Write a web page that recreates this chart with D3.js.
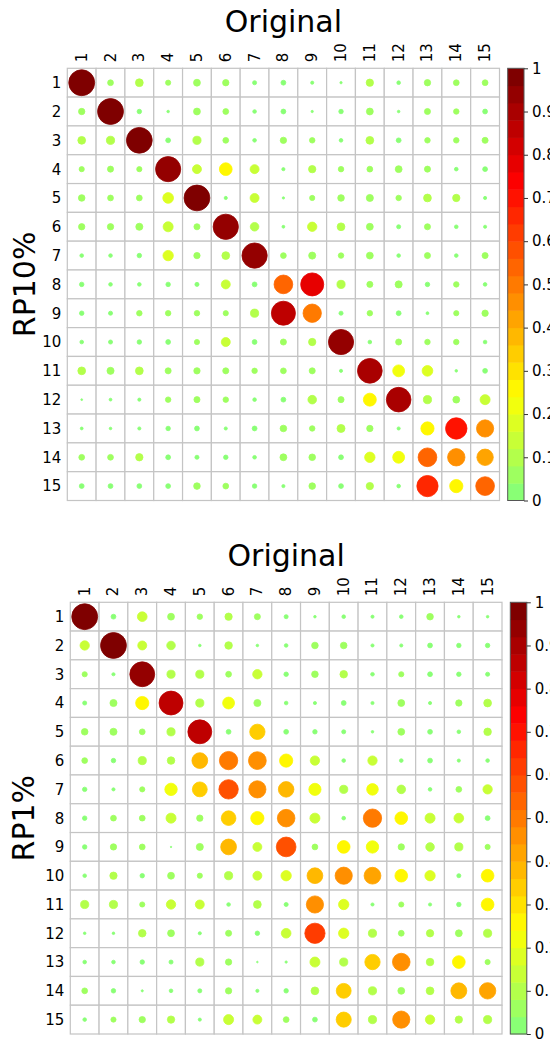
<!DOCTYPE html>
<html>
<head>
<meta charset="utf-8"/>
<script src="https://d3js.org/d3.v7.min.js"></script>
<style>
    body { margin: 0; padding: 0; width: 550px; height: 1042px; background: #fff; font-family: 'DejaVu Sans', sans-serif; }
    svg text { font-family: 'DejaVu Sans', sans-serif; fill: #000; }
</style>
</head>
<body>
<div id="chart"></div>
<script>
    // row / column labels
    const labels = ["1","2","3","4","5","6","7","8","9","10","11","12","13","14","15"];
    const colorbarTicks = [0, 0.1, 0.2, 0.3, 0.4, 0.5, 0.6, 0.7, 0.8, 0.9, 1];
    const colorbarTickLabels = ["0","0.1","0.2","0.3","0.4","0.5","0.6","0.7","0.8","0.9","1"];

    // RP10% vs Original (rows = RP10%, columns = Original)
    const rp10 = [
        [1.00,0.05,0.09,0.04,0.07,0.06,0.025,0.035,0.015,0.008,0.08,0.02,0.06,0.05,0.05],
        [0.06,1.00,0.03,0.01,0.07,0.05,0.02,0.035,0.008,0.03,0.07,0.01,0.055,0.045,0.035],
        [0.09,0.10,0.99,0.035,0.10,0.05,0.02,0.06,0.045,0.02,0.09,0.035,0.045,0.045,0.055],
        [0.04,0.055,0.04,0.94,0.12,0.24,0.12,0.015,0.08,0.045,0.05,0.07,0.055,0.02,0.035],
        [0.065,0.05,0.05,0.17,0.99,0.015,0.12,0.008,0.04,0.065,0.075,0.045,0.09,0.08,0.015],
        [0.06,0.06,0.075,0.15,0.055,0.95,0.11,0.012,0.13,0.09,0.07,0.025,0.055,0.02,0.015],
        [0.02,0.02,0.03,0.16,0.06,0.09,0.95,0.05,0.075,0.045,0.07,0.02,0.055,0.02,0.055],
        [0.03,0.02,0.02,0.03,0.025,0.12,0.035,0.52,0.79,0.10,0.055,0.075,0.03,0.045,0.02],
        [0.03,0.025,0.045,0.045,0.045,0.04,0.10,0.86,0.50,0.025,0.045,0.035,0.012,0.04,0.06],
        [0.02,0.025,0.03,0.035,0.04,0.12,0.035,0.055,0.08,0.94,0.02,0.055,0.045,0.045,0.02],
        [0.09,0.075,0.09,0.055,0.06,0.055,0.045,0.05,0.055,0.015,0.91,0.21,0.17,0.01,0.035],
        [0.005,0.012,0.015,0.045,0.055,0.045,0.02,0.035,0.11,0.055,0.25,0.90,0.10,0.07,0.15],
        [0.012,0.01,0.015,0.03,0.035,0.015,0.035,0.065,0.045,0.095,0.06,0.015,0.26,0.68,0.44],
        [0.05,0.05,0.08,0.035,0.025,0.03,0.02,0.07,0.065,0.035,0.16,0.21,0.52,0.45,0.40],
        [0.035,0.035,0.035,0.035,0.065,0.05,0.03,0.015,0.065,0.035,0.08,0.02,0.67,0.26,0.52]
    ];

    // RP1% vs Original
    const rp1 = [
        [1.00,0.035,0.14,0.07,0.045,0.08,0.055,0.025,0.01,0.02,0.015,0.02,0.065,0.01,0.01],
        [0.13,1.00,0.12,0.11,0.01,0.085,0.01,0.02,0.065,0.065,0.015,0.015,0.035,0.03,0.03],
        [0.04,0.015,0.92,0.10,0.10,0.05,0.13,0.03,0.065,0.085,0.02,0.04,0.035,0.03,0.025],
        [0.025,0.075,0.26,0.85,0.10,0.21,0.075,0.02,0.015,0.035,0.015,0.07,0.015,0.06,0.09],
        [0.065,0.075,0.05,0.10,0.85,0.035,0.35,0.035,0.03,0.025,0.01,0.07,0.035,0.02,0.085],
        [0.05,0.03,0.10,0.085,0.37,0.50,0.47,0.26,0.13,0.02,0.13,0.02,0.035,0.015,0.02],
        [0.03,0.015,0.04,0.23,0.33,0.56,0.44,0.36,0.22,0.10,0.20,0.11,0.02,0.05,0.13],
        [0.03,0.05,0.05,0.15,0.06,0.32,0.26,0.46,0.15,0.02,0.50,0.24,0.15,0.14,0.035],
        [0.03,0.06,0.05,0.003,0.075,0.37,0.12,0.58,0.05,0.24,0.23,0.06,0.11,0.10,0.04],
        [0.02,0.08,0.03,0.07,0.04,0.10,0.12,0.16,0.37,0.44,0.42,0.24,0.16,0.025,0.24],
        [0.10,0.10,0.04,0.13,0.12,0.02,0.09,0.025,0.44,0.16,0.015,0.04,0.015,0.03,0.24],
        [0.01,0.01,0.085,0.07,0.015,0.055,0.03,0.14,0.61,0.16,0.10,0.05,0.08,0.07,0.10],
        [0.02,0.02,0.03,0.025,0.10,0.06,0.004,0.008,0.15,0.10,0.35,0.46,0.085,0.24,0.04],
        [0.05,0.03,0.007,0.02,0.025,0.06,0.015,0.03,0.09,0.33,0.10,0.07,0.09,0.38,0.40],
        [0.02,0.04,0.06,0.08,0.015,0.15,0.12,0.05,0.035,0.34,0.10,0.44,0.13,0.08,0.10]
    ];

    const W = 550, H = 1042;
    const svg = d3.select("#chart").append("svg")
        .attr("width", W).attr("height", H);

    // jet-like ramp over 0..1, cut into 25 bands like corrplot
    const ramp = d3.scaleLinear()
        .domain([0, 0.25, 0.5, 0.75, 1])
        .range(["#7FFF7F", "#FFFF00", "#FF7F00", "#FF0000", "#7F0000"])
        .interpolate(d3.interpolateRgb);
    const nBands = 25;
    const bandColors = d3.range(nBands).map(j => ramp((1 + 2 * j) / 49));
    const color = d3.scaleQuantize().domain([0, 1]).range(bandColors);

    function drawPanel(cfg) {
        const g = svg.append("g");
        const x = d3.scaleBand().domain(labels).range([cfg.x0, cfg.x0 + cfg.size]);
        const y = d3.scaleBand().domain(labels).range([cfg.y0, cfg.y0 + cfg.size]);
        const r = d3.scaleSqrt().domain([0, 1]).range([0, 0.45 * x.bandwidth()]);

        // title
        g.append("text")
            .attr("x", cfg.x0 + cfg.size / 2)
            .attr("y", cfg.y0 - 36)
            .attr("text-anchor", "middle")
            .style("font-size", "30px")
            .text(cfg.title);

        // y title
        g.append("text")
            .attr("transform", `translate(${cfg.ylabX},${cfg.y0 + cfg.size / 2}) rotate(-90)`)
            .attr("text-anchor", "middle")
            .style("font-size", "30px")
            .text(cfg.ylab);

        const cells = [];
        cfg.values.forEach((row, i) => row.forEach((v, j) => cells.push({ r: labels[i], c: labels[j], v: v })));

        // grid
        g.selectAll(".cell").data(cells).enter().append("rect")
            .attr("x", d => x(d.c)).attr("y", d => y(d.r))
            .attr("width", x.bandwidth()).attr("height", y.bandwidth())
            .attr("fill", "#fff").attr("stroke", "#c4c4c4").attr("stroke-width", 1.2);

        // circles (border drawn in the fill colour, as corrplot does)
        g.selectAll(".dot").data(cells).enter().append("circle")
            .attr("cx", d => x(d.c) + x.bandwidth() / 2)
            .attr("cy", d => y(d.r) + y.bandwidth() / 2)
            .attr("r", d => r(Math.abs(d.v)))
            .attr("fill", d => color(Math.min(Math.abs(d.v), 0.9999)))
            .attr("stroke", d => color(Math.min(Math.abs(d.v), 0.9999)))
            .attr("stroke-width", 0.8);

        // column labels
        g.selectAll(".clab").data(labels).enter().append("text")
            .attr("transform", d => `translate(${x(d) + x.bandwidth() / 2 + 5},${cfg.y0 - 6}) rotate(-90)`)
            .attr("text-anchor", "start")
            .style("font-size", "15px")
            .text(d => d);

        // row labels
        g.selectAll(".rlab").data(labels).enter().append("text")
            .attr("x", cfg.x0 - 6)
            .attr("y", d => y(d) + y.bandwidth() / 2)
            .attr("dy", "0.36em")
            .attr("text-anchor", "end")
            .style("font-size", "15px")
            .text(d => d);

        // colorbar
        const cb = d3.scaleLinear().domain([0, 1]).range([cfg.y0 + cfg.size, cfg.y0]);
        const bandStep = 1 / nBands;
        g.selectAll(".band").data(bandColors).enter().append("rect")
            .attr("x", cfg.cbX)
            .attr("y", (d, j) => cb((j + 1) * bandStep))
            .attr("width", cfg.cbW)
            .attr("height", (d, j) => cb(j * bandStep) - cb((j + 1) * bandStep) + 0.5)
            .attr("fill", d => d);
        g.append("rect")
            .attr("x", cfg.cbX).attr("y", cfg.y0)
            .attr("width", cfg.cbW).attr("height", cfg.size)
            .attr("fill", "none").attr("stroke", "#555").attr("stroke-width", 1);

        const axis = g.append("g")
            .attr("transform", `translate(${cfg.cbX + cfg.cbW},0)`)
            .call(d3.axisRight(cb).tickValues(colorbarTicks)
                .tickFormat((d, i) => colorbarTickLabels[i]).tickSize(4).tickPadding(4));
        axis.select(".domain").remove();
        axis.selectAll("line").attr("stroke", "#333");
        axis.selectAll("text")
            .style("font-size", "15px")
            .style("font-family", "'DejaVu Sans', sans-serif")
            .attr("fill", "#000");
    }

    drawPanel({ title: "Original", ylab: "RP10%", values: rp10,
        x0: 67.3, y0: 68.3, size: 432.2, cbX: 507.7, cbW: 16.3, ylabX: 35 });
    drawPanel({ title: "Original", ylab: "RP1%", values: rp1,
        x0: 70.3, y0: 602.3, size: 431.7, cbX: 510.3, cbW: 16.5, ylabX: 34 });
</script>
</body>
</html>
